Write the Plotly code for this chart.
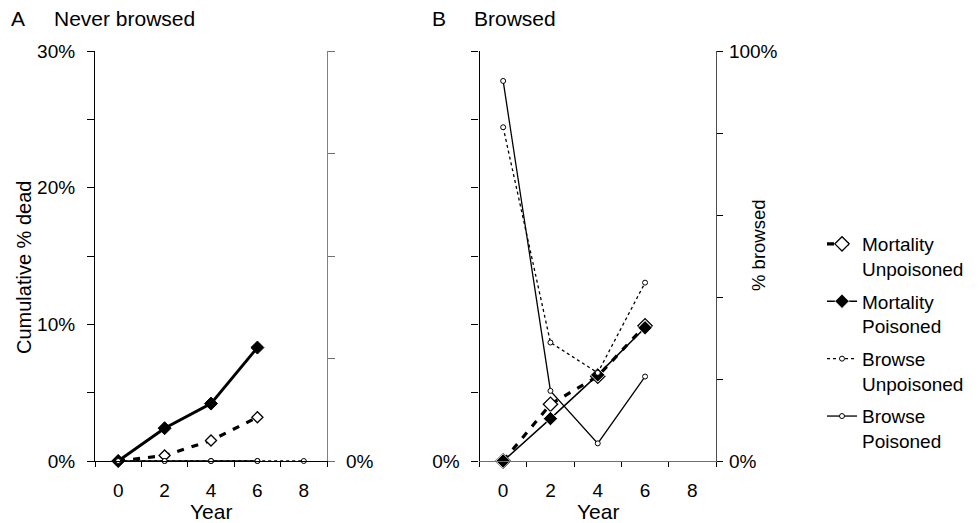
import plotly.graph_objects as go

# ---------------- data ----------------
years_a_mort = [0, 2, 4, 6]
years_a_browse_unp = [0, 2, 4, 6, 8]
years_a_browse_poi = [0, 2, 4, 6]
a_mort_unpoisoned = [0.0, 0.4, 1.5, 3.2]
a_mort_poisoned = [0.0, 2.4, 4.2, 8.3]
a_browse_unpoisoned = [0, 0, 0, 0, 0]
a_browse_poisoned = [0, 0, 0, 0]

years_b = [0, 2, 4, 6]
b_mort_unpoisoned = [0.0, 4.15, 6.2, 9.9]
b_mort_poisoned = [0.0, 3.1, 6.3, 9.75]
b_browse_unpoisoned = [81.4, 28.9, 21.5, 43.5]
b_browse_poisoned = [92.7, 17.1, 4.3, 20.6]

year_ticks = [0, 2, 4, 6, 8]
year_labels = ["0", "2", "4", "6", "8"]
dead_ticks = [0, 5, 10, 15, 20, 25, 30]
a_dead_labels = ["0%", "", "10%", "", "20%", "", "30%"]
b_dead_labels = ["0%", "", "", "", "", "", ""]
a_browse_ticks = [0, 25, 50, 75, 100]
a_browse_labels = ["0%", "", "", "", ""]
b_browse_ticks = [0, 20, 40, 60, 80, 100]
b_browse_labels = ["0%", "", "", "", "", "100%"]

# ---------------- geometry helpers ----------------
W, H = 979, 523
def px(x):
    return x / W
def py(y):
    return 1 - y / H

FONT = "Liberation Sans, Arial, sans-serif"
FS = 19
dom_a = [px(95), px(327)]
dom_b = [px(479.5), px(716)]
dom_y = [py(461), py(51)]

fig = go.Figure()

circle_open = dict(symbol="circle", size=5, color="white", line=dict(color="black", width=1))

# ----- panel A -----
fig.add_trace(go.Scatter(x=years_a_browse_poi, y=a_browse_poisoned, xaxis="x", yaxis="y2",
                         mode="lines+markers", line=dict(color="black", width=1.3),
                         marker=circle_open, showlegend=False, cliponaxis=False))
fig.add_trace(go.Scatter(x=years_a_browse_unp, y=a_browse_unpoisoned, xaxis="x", yaxis="y2",
                         mode="lines+markers", line=dict(color="black", width=1.5, dash="3px,3px"),
                         marker=circle_open, showlegend=False, cliponaxis=False))
fig.add_trace(go.Scatter(x=years_a_mort, y=a_mort_unpoisoned, xaxis="x", yaxis="y",
                         mode="lines+markers", line=dict(color="black", width=3.2, dash="7px,8px"),
                         marker=dict(symbol="diamond", size=8.5, color="white", line=dict(color="black", width=1.3)),
                         showlegend=False, cliponaxis=False))
fig.add_trace(go.Scatter(x=years_a_mort, y=a_mort_poisoned, xaxis="x", yaxis="y",
                         mode="lines+markers", line=dict(color="black", width=3),
                         marker=dict(symbol="diamond", size=10, color="black", line=dict(color="black", width=1)),
                         showlegend=False, cliponaxis=False))

# ----- panel B -----
fig.add_trace(go.Scatter(x=years_b, y=b_browse_unpoisoned, xaxis="x2", yaxis="y4",
                         name="Browse<br>Unpoisoned", legendrank=3, legendgroup="g3",
                         mode="lines+markers", line=dict(color="black", width=1.3, dash="3px,3px"),
                         marker=circle_open, cliponaxis=False))
fig.add_trace(go.Scatter(x=years_b, y=b_browse_poisoned, xaxis="x2", yaxis="y4",
                         name="Browse<br>Poisoned", legendrank=4, legendgroup="g4",
                         mode="lines+markers", line=dict(color="black", width=1.3),
                         marker=circle_open, cliponaxis=False))
fig.add_trace(go.Scatter(x=years_b, y=b_mort_unpoisoned, xaxis="x2", yaxis="y3",
                         name="Mortality<br>Unpoisoned", legendrank=1, legendgroup="g1",
                         mode="lines+markers", line=dict(color="black", width=3.2, dash="7px,8px"),
                         marker=dict(symbol="diamond", size=11, color="white", line=dict(color="black", width=1.3)),
                         cliponaxis=False))
fig.add_trace(go.Scatter(x=years_b, y=b_mort_poisoned, xaxis="x2", yaxis="y3",
                         name="Mortality<br>Poisoned", legendrank=2, legendgroup="g2",
                         mode="lines+markers", line=dict(color="black", width=1.5),
                         marker=dict(symbol="diamond", size=11, color="black", line=dict(color="white", width=0.8)),
                         cliponaxis=False))

tickfont = dict(family=FONT, size=FS, color="black")

def xaxis_cfg(domain, anchor, linecolor):
    return dict(domain=domain, anchor=anchor, range=[-1, 9], tickmode="array",
                tickvals=year_ticks, ticktext=year_labels, ticks="", showline=True,
                linecolor=linecolor, linewidth=1.2, showgrid=False, zeroline=False,
                tickfont=tickfont, ticklabelstandoff=12, automargin=False,
                minor=dict(tickmode="array", tickvals=[-1, 1, 3, 5, 7, 9], ticks="outside",
                           ticklen=5, tickcolor="black", tickwidth=1))

def xover_cfg(overlay, anchor):
    return dict(overlaying=overlay, matches=overlay, anchor=anchor, range=[-1, 9], tickmode="array",
                tickvals=[-1, 1, 3, 5, 7, 9], ticks="inside", ticklen=5, tickcolor="black",
                showticklabels=False, showline=False, showgrid=False, zeroline=False, automargin=False)

fig.update_layout(
    width=W, height=H,
    margin=dict(l=0, r=0, t=0, b=0, autoexpand=False),
    paper_bgcolor="white", plot_bgcolor="white",
    font=dict(family=FONT, size=FS, color="black"),
    xaxis=xaxis_cfg(dom_a, "y", "black"),
    xaxis2=xaxis_cfg(dom_b, "y3", "#707070"),
    xaxis3=xover_cfg("x", "y"),
    xaxis4=xover_cfg("x2", "y3"),
    yaxis=dict(domain=dom_y, anchor="x", range=[0, 30], tickmode="array", tickvals=dead_ticks,
               ticktext=a_dead_labels, ticks="outside", ticklen=7, tickcolor="black",
               showline=True, linecolor="black", linewidth=1.2, showgrid=False, zeroline=False,
               tickfont=tickfont, ticklabelstandoff=8, automargin=False),
    yaxis2=dict(overlaying="y", anchor="x", side="right", range=[0, 100], tickmode="array",
                tickvals=a_browse_ticks, ticktext=a_browse_labels, ticks="outside", ticklen=7,
                tickcolor="#707070", showline=True, linecolor="#808080", linewidth=1.2,
                showgrid=False, zeroline=False, tickfont=tickfont, ticklabelstandoff=7, automargin=False),
    yaxis3=dict(domain=dom_y, anchor="x2", range=[0, 30], tickmode="array", tickvals=dead_ticks,
                ticktext=b_dead_labels, ticks="outside", ticklen=7, tickcolor="black",
                showline=True, linecolor="black", linewidth=1.2, showgrid=False, zeroline=False,
                tickfont=tickfont, ticklabelstandoff=8, automargin=False),
    yaxis4=dict(overlaying="y3", anchor="x2", side="right", range=[0, 100], tickmode="array",
                tickvals=b_browse_ticks, ticktext=b_browse_labels, ticks="outside", ticklen=6,
                tickcolor="black", showline=True, linecolor="#505050", linewidth=1.2,
                showgrid=False, zeroline=False, tickfont=tickfont, ticklabelstandoff=2, automargin=False),
    legend=dict(x=px(822), y=py(225), xanchor="left", yanchor="top", valign="top",
                font=dict(family=FONT, size=FS, color="black"), bgcolor="rgba(0,0,0,0)",
                tracegroupgap=5, itemwidth=30, traceorder="grouped"),
    showlegend=True,
)

annotations = [
    dict(text="A", x=px(9), y=py(18), xanchor="left", yanchor="middle", size=21),
    dict(text="Never browsed", x=px(52), y=py(18), xanchor="left", yanchor="middle", size=21),
    dict(text="B", x=px(430), y=py(18), xanchor="left", yanchor="middle", size=21),
    dict(text="Browsed", x=px(472), y=py(18), xanchor="left", yanchor="middle", size=21),
    dict(text="Cumulative % dead", x=px(24), y=py(268), textangle=-90, xanchor="center", yanchor="middle", size=20),
    dict(text="% browsed", x=px(758), y=py(245), textangle=-90, xanchor="center", yanchor="middle", size=18.5),
    dict(text="Year", x=px(211), y=py(511), xanchor="center", yanchor="middle", size=21),
    dict(text="Year", x=px(598), y=py(511), xanchor="center", yanchor="middle", size=21),
]
for a in annotations:
    s = a.pop("size")
    a.update(xref="paper", yref="paper", showarrow=False,
             font=dict(family=FONT, size=s, color="black"))
fig.update_layout(annotations=annotations)

fig.write_html("out.html")
